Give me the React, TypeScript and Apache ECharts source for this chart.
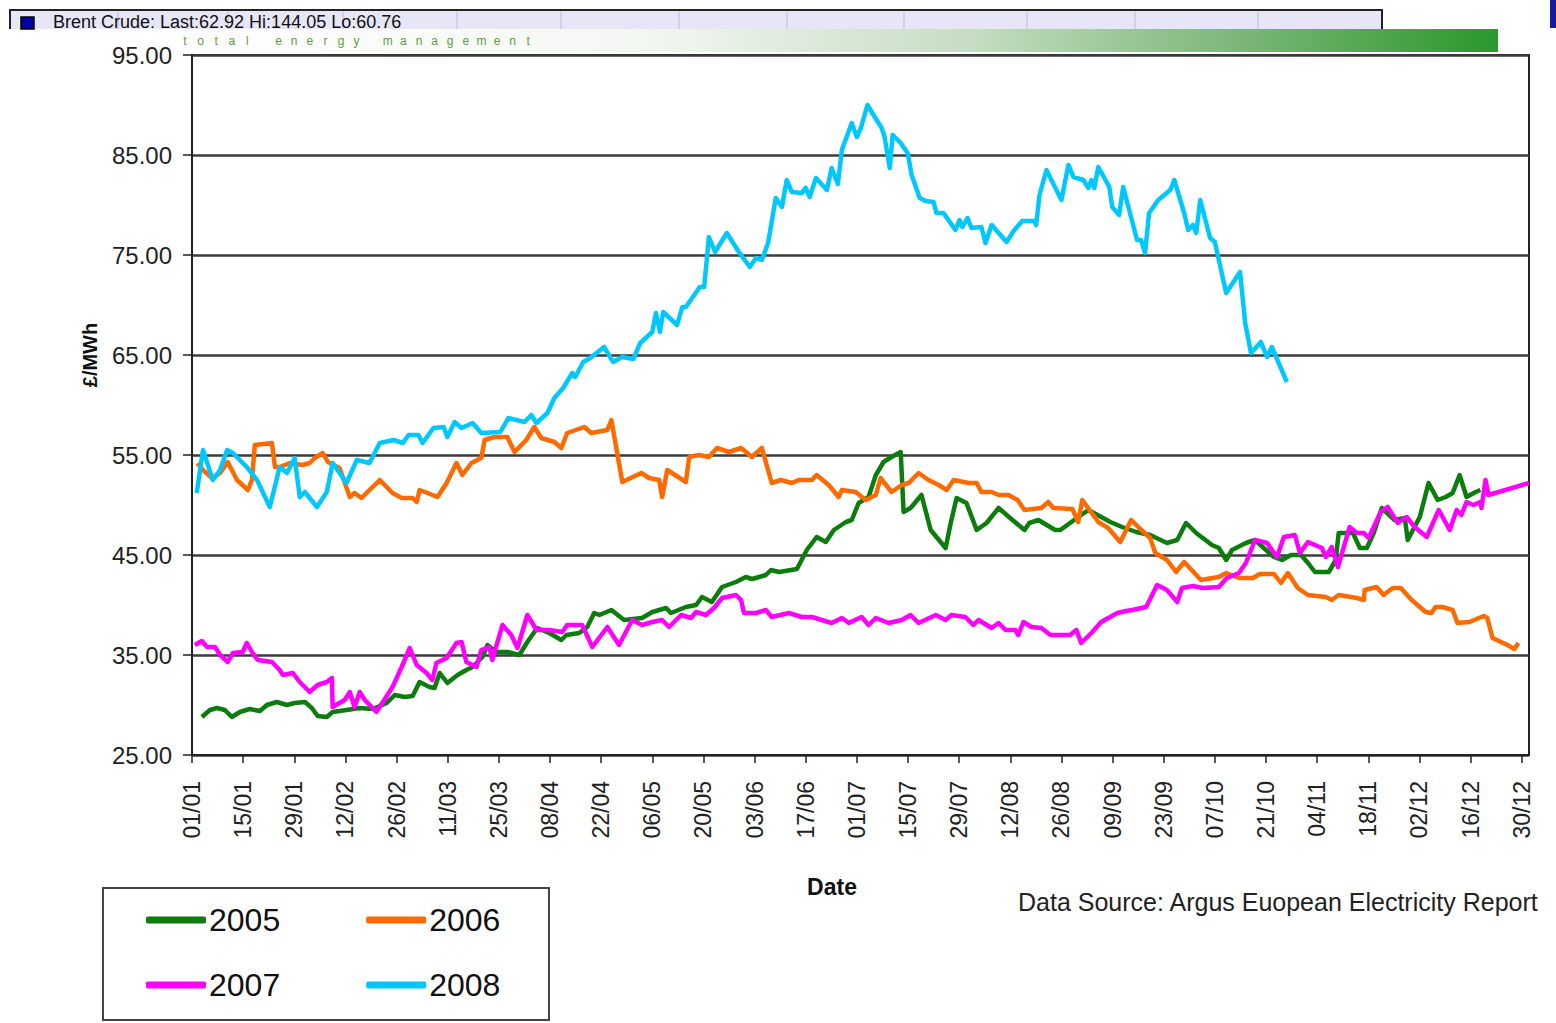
import React, { useEffect, useRef } from "react";
import * as echarts from "echarts";

const xTickLabels = ["01/01","15/01","29/01","12/02","26/02","11/03","25/03","08/04","22/04","06/05","20/05","03/06","17/06","01/07","15/07","29/07","12/08","26/08","09/09","23/09","07/10","21/10","04/11","18/11","02/12","16/12","30/12"];
const yearNames = ["2005", "2006", "2007", "2008"];
const seriesColors = ["#0c7d0c", "#ff6a00", "#ff00ff", "#00c8ff"];

// [day of year (0 = 01/01), £/MWh]
const s2005: number[][] = [[2.7,28.8],[4.9,29.5],[6.8,29.7],[9.0,29.5],[10.9,28.8],[13.1,29.3],[15.8,29.6],[18.6,29.4],[20.5,30.0],[23.2,30.3],[26.0,30.0],[28.1,30.2],[30.9,30.3],[32.8,29.7],[34.4,28.9],[36.9,28.8],[38.5,29.3],[42.3,29.5],[45.9,29.7],[49.5,29.6],[53.3,30.2],[55.5,31.0],[58.2,30.8],[60.4,30.9],[62.3,32.3],[65.0,31.8],[66.4,31.7],[67.8,33.2],[69.9,32.2],[72.7,33.0],[75.1,33.5],[76.8,33.8],[79.5,34.8],[80.9,36.0],[83.3,35.3],[86.3,35.3],[89.6,35.0],[91.8,36.3],[94.5,37.7],[97.8,37.2],[101.1,36.5],[102.5,37.0],[106.0,37.2],[108.2,37.8],[110.1,39.2],[111.5,39.0],[114.8,39.5],[118.3,38.5],[123.2,38.7],[126.0,39.3],[129.8,39.7],[131.1,39.2],[135.2,39.8],[138.0,40.0],[139.6,40.8],[142.3,40.3],[145.1,41.8],[148.9,42.3],[151.6,42.8],[153.3,42.6],[157.1,43.0],[158.5,43.5],[160.7,43.3],[165.6,43.6],[168.3,45.5],[171.0,46.8],[173.5,46.3],[175.7,47.5],[179.0,48.3],[180.6,48.5],[182.5,50.2],[185.2,50.8],[187.2,53.0],[189.3,54.3],[191.5,54.8],[194.0,55.3],[194.8,49.3],[196.7,49.7],[199.7,51.0],[202.2,47.5],[206.3,45.7],[207.7,48.2],[209.3,50.7],[212.0,50.2],[214.8,47.5],[217.5,48.2],[220.8,49.7],[224.6,48.5],[227.9,47.5],[229.2,48.2],[231.7,48.5],[236.3,47.5],[237.7,47.5],[243.4,49.0],[245.4,49.5],[251.4,48.3],[254.6,47.8],[258.5,47.3],[262.3,47.0],[266.9,46.2],[269.7,46.5],[272.1,48.2],[274.9,47.2],[279.2,46.0],[281.1,45.7],[283.1,44.5],[284.7,45.5],[288.5,46.2],[291.0,46.5],[293.4,45.7],[296.2,44.8],[298.4,44.5],[300.8,45.0],[303.6,45.0],[305.5,44.2],[307.4,43.3],[311.2,43.3],[313.1,44.5],[313.9,47.2],[317.8,47.2],[319.7,45.7],[321.6,45.7],[323.5,47.2],[325.7,49.7],[329.2,48.5],[332.0,48.7],[332.8,46.5],[336.1,48.8],[338.5,52.2],[341.0,50.5],[343.2,50.8],[345.1,51.2],[347.0,53.0],[348.9,50.8],[351.4,51.3],[352.7,51.5]];

const s2006: number[][] = [[1.5,54.2],[3.0,53.5],[5.5,52.7],[7.7,53.2],[9.8,54.3],[12.3,52.5],[15.3,51.5],[16.4,52.5],[17.2,56.0],[21.9,56.2],[22.7,53.8],[24.0,53.8],[26.8,54.2],[30.3,54.0],[32.2,54.2],[33.6,54.7],[35.8,55.2],[37.2,54.3],[40.4,53.7],[43.2,50.8],[44.5,51.2],[46.4,50.7],[48.6,51.5],[51.4,52.5],[54.9,51.2],[57.4,50.7],[60.4,50.7],[61.5,50.3],[62.3,51.5],[64.5,51.2],[67.2,50.8],[69.7,52.2],[72.4,54.2],[74.0,53.0],[76.5,54.2],[79.2,54.7],[80.1,56.5],[82.8,56.8],[86.3,56.8],[88.3,55.3],[91.5,56.5],[93.7,57.8],[95.6,56.7],[99.2,56.3],[101.1,55.7],[102.7,57.2],[107.4,57.8],[109.3,57.2],[113.7,57.5],[114.8,58.5],[117.8,52.3],[123.0,53.2],[125.1,52.7],[127.9,52.5],[128.7,50.8],[130.1,53.5],[135.2,52.3],[136.1,54.8],[138.8,55.0],[141.5,54.8],[143.7,55.7],[147.0,55.3],[150.3,55.7],[153.3,54.8],[156.0,55.7],[158.7,52.2],[161.2,52.5],[164.2,52.2],[166.1,52.5],[169.7,52.5],[171.0,53.0],[174.3,52.0],[177.0,50.8],[177.9,51.5],[181.7,51.3],[184.4,50.5],[187.2,51.0],[188.5,52.7],[191.5,51.3],[194.3,52.0],[196.2,52.2],[198.9,53.2],[201.6,52.5],[204.4,52.0],[206.6,51.5],[208.5,52.5],[212.6,52.2],[214.8,52.2],[216.1,51.3],[218.9,51.3],[220.8,51.0],[223.5,51.0],[226.0,50.5],[227.9,49.5],[232.5,49.7],[234.4,50.3],[235.8,49.7],[241.0,49.6],[242.6,48.3],[243.7,50.5],[248.1,48.3],[250.8,47.7],[254.1,46.3],[257.1,48.5],[259.3,47.7],[262.3,46.7],[263.7,45.2],[266.9,44.5],[269.4,43.3],[271.6,44.3],[276.2,42.5],[281.1,42.8],[283.1,43.2],[286.6,42.7],[290.4,42.7],[292.3,43.1],[296.2,43.1],[298.1,42.2],[300.0,43.2],[302.7,41.7],[305.5,41.0],[310.4,40.8],[312.0,40.5],[313.9,41.0],[318.9,40.7],[320.8,40.5],[321.0,41.5],[324.3,41.8],[326.2,41.0],[328.7,41.7],[330.9,41.7],[333.9,40.5],[337.7,39.3],[339.3,39.2],[340.4,39.8],[342.3,39.8],[345.1,39.5],[346.4,38.2],[349.7,38.3],[353.6,38.9],[354.6,38.7],[356.0,36.7],[360.1,36.0],[362.0,35.6],[363.1,36.2]];

const s2007: number[][] = [[0.8,36.0],[2.7,36.4],[4.1,35.8],[6.3,35.8],[7.7,35.0],[9.8,34.3],[11.2,35.2],[13.9,35.3],[15.0,36.2],[16.4,35.3],[18.0,34.5],[21.9,34.3],[24.0,33.5],[24.9,33.0],[27.6,33.2],[29.5,32.3],[32.2,31.3],[34.4,32.0],[36.9,32.3],[38.3,32.7],[38.5,29.8],[41.8,30.5],[43.2,31.3],[44.5,29.8],[45.9,31.3],[47.3,30.5],[50.5,29.3],[54.9,31.8],[57.4,33.8],[59.6,35.7],[61.5,34.0],[64.2,33.2],[65.8,32.5],[66.9,34.2],[69.7,34.7],[72.4,36.2],[73.8,36.3],[75.1,34.3],[77.9,33.8],[79.2,35.5],[81.4,35.8],[82.2,34.5],[85.0,38.0],[87.4,37.0],[89.1,35.7],[91.8,39.0],[94.3,37.5],[97.8,37.5],[101.4,37.3],[102.7,38.0],[106.8,38.0],[109.6,35.8],[113.7,37.8],[116.9,36.0],[120.5,38.5],[123.2,38.0],[126.0,38.3],[128.7,38.5],[130.6,37.8],[133.9,39.0],[136.6,38.7],[138.0,39.3],[140.7,39.0],[142.9,39.7],[145.1,40.7],[148.9,41.0],[150.3,40.5],[151.1,39.2],[154.4,39.2],[157.1,39.5],[158.7,38.8],[163.4,39.2],[166.9,38.8],[169.7,38.8],[175.1,38.2],[177.9,38.7],[179.8,38.2],[183.3,38.8],[185.2,38.0],[187.2,38.7],[190.7,38.2],[194.3,38.5],[196.7,39.0],[198.9,38.2],[203.6,39.0],[206.3,38.5],[207.9,39.0],[211.7,38.8],[213.9,38.0],[215.3,38.5],[218.9,37.7],[220.8,38.2],[222.7,37.5],[225.4,37.5],[226.2,37.0],[227.6,38.3],[229.8,37.8],[232.5,37.7],[235.0,37.0],[240.4,37.0],[242.1,37.5],[243.4,36.2],[246.2,37.2],[248.9,38.3],[253.3,39.2],[255.7,39.4],[257.4,39.5],[261.2,39.8],[264.2,42.0],[266.9,41.5],[269.7,40.3],[271.0,41.7],[274.0,41.9],[276.8,41.7],[281.1,41.8],[283.3,42.7],[286.6,43.2],[288.5,44.2],[291.0,46.5],[294.3,46.2],[297.0,44.8],[298.9,46.8],[301.9,47.0],[303.3,45.2],[305.5,46.3],[309.3,45.7],[310.4,44.8],[312.0,45.8],[313.7,43.8],[316.9,47.8],[318.9,47.2],[320.8,47.2],[322.1,46.7],[325.4,49.3],[327.3,49.8],[330.1,48.2],[332.5,48.8],[334.7,47.8],[338.0,46.8],[341.3,49.5],[344.3,47.5],[346.2,49.5],[347.5,49.0],[348.9,50.3],[350.8,50.0],[352.7,50.3],[353.0,49.7],[354.1,52.5],[354.9,51.0],[366.0,52.2]];

const s2008: number[][] = [[1.3,51.2],[3,55.5],[5.7,52.5],[7.7,53.5],[9.6,55.5],[11.2,55.2],[15,53.8],[17.8,52.5],[21.3,49.8],[24,53.8],[26,53.2],[28.1,54.7],[29.5,50.8],[30.9,51.3],[34.2,49.8],[36.9,51.3],[38.5,54.2],[42.3,52.2],[45.1,54.5],[48.6,54.2],[51.4,56.2],[55.2,56.5],[57.7,56.2],[59.3,57],[62,57],[63.1,56.2],[66.1,57.7],[68.9,57.8],[69.9,56.8],[71.9,58.3],[73.8,57.7],[76.8,58.2],[79.2,57.2],[84.4,57.3],[86.6,58.7],[91,58.3],[92.9,59],[94.3,58.2],[97.3,59.2],[99.2,60.7],[101.6,61.7],[104.1,63.2],[104.9,62.8],[107.1,64.3],[109,64.7],[112.8,65.8],[115.3,64.3],[117.8,64.8],[120.8,64.6],[122.7,66.2],[126,67.3],[127,69.2],[128.1,67.3],[129,69.3],[132.8,68],[134.2,69.8],[135.2,69.8],[139,71.8],[140.2,71.8],[141.5,76.8],[143.2,75.3],[146.4,77.2],[149.7,75.3],[152.7,73.8],[154.4,74.7],[156,74.5],[157.7,76.2],[159.8,80.7],[161.5,79.8],[162.8,82.5],[164.2,81.3],[166.9,81.2],[168,81.7],[169.1,80.8],[170.8,82.7],[173.8,81.5],[175.1,83.7],[176.8,82.1],[177.9,85.5],[180.6,88.2],[182,86.8],[183.1,87.7],[184.9,90],[186.9,88.8],[188.8,87.7],[189.6,86.8],[191,83.7],[191.8,87],[194,86.2],[195.9,85.2],[197,83],[199.2,80.7],[200.8,80.4],[203,80.3],[203.8,79.2],[205.7,79.2],[209,77.5],[210.1,78.5],[210.9,77.8],[212.3,78.7],[213.4,77.7],[216.1,77.8],[217.2,76.2],[218.9,78],[223,76.3],[225.1,77.5],[227.3,78.4],[230.6,78.4],[231.1,78],[232,81],[233.9,83.5],[238,80.5],[239.9,84],[241.3,82.8],[244,82.5],[245.4,81.7],[246.2,82.5],[247,81.7],[248.1,83.8],[251.1,81.8],[251.9,79.8],[253.8,79],[254.9,81.8],[258.7,76.5],[259.8,76.5],[260.9,75.2],[262,79.2],[264.5,80.5],[267.8,81.5],[268.9,82.5],[271.6,79.2],[272.7,77.5],[274,78],[274.9,77.2],[276,80.5],[278.7,76.7],[280,76.3],[283.1,71.2],[286.9,73.3],[288.3,68.2],[289.9,65.2],[292.6,66.3],[294.3,64.8],[295.6,65.8],[299.7,62.3]];

const seriesData = [s2005, s2006, s2007, s2008];

const tickerText = "Brent Crude: Last:62.92 Hi:144.05 Lo:60.76";
const brandText = "total energy management";
const sourceText = "Data Source: Argus Euopean Electricity Report";
const FONT = "'Liberation Sans', Arial, Helvetica, sans-serif";

export default function App() {
  const ref = useRef<HTMLDivElement>(null);

  useEffect(() => {
    if (!ref.current) return;
    const chart = echarts.init(ref.current, undefined, { renderer: "svg" });

    const dividerXs = [118, 228, 343, 457, 561, 679, 787, 904, 1027, 1135, 1258];
    const brandChildren: any[] = [];
    for (let i = 0; i < brandText.length; i++) {
      const ch = brandText[i];
      if (ch === " ") continue;
      brandChildren.push({
        type: "text",
        x: 185 + i * 15.6,
        y: 41,
        z: 6,
        style: { text: ch, font: `12px ${FONT}`, fill: "#5c9e3c", textAlign: "center", textVerticalAlign: "middle" },
      });
    }

    const graphic: any[] = [
      { type: "rect", z: 1, shape: { x: 10, y: 10, width: 1372, height: 19 }, style: { fill: "#e6e6f6" } },
      { type: "polyline", z: 1, shape: { points: [[10, 29], [10, 10], [1382, 10], [1382, 29]] }, style: { fill: "none", stroke: "#222", lineWidth: 2 } },
      ...dividerXs.map((x) => ({ type: "line", z: 1, shape: { x1: x, y1: 12, x2: x, y2: 29 }, style: { stroke: "#c9c9e4", lineWidth: 1.5 } })),
      { type: "rect", z: 2, shape: { x: 21, y: 17, width: 13, height: 12 }, style: { fill: "#0000a8", stroke: "#000", lineWidth: 1.5 } },
      { type: "text", z: 2, x: 53, y: 13, style: { text: tickerText, font: `18px ${FONT}`, fill: "#111", textVerticalAlign: "top" } },
      { type: "rect", z: 3, shape: { x: 1550, y: 0, width: 6, height: 28 }, style: { fill: "#1a1aa0" } },
      {
        type: "rect",
        z: 4,
        shape: { x: 181, y: 29, width: 1317, height: 23 },
        style: {
          fill: {
            type: "linear", x: 0, y: 0, x2: 1, y2: 0,
            colorStops: [
              { offset: 0, color: "#ffffff" },
              { offset: 0.35, color: "#f3f7f2" },
              { offset: 0.6, color: "#c6ddc3" },
              { offset: 0.8, color: "#7db77a" },
              { offset: 1, color: "#2a982a" },
            ],
          },
        },
      },
      ...brandChildren,
      { type: "text", x: 832, y: 887, style: { text: "Date", font: `bold 23px ${FONT}`, fill: "#111", textAlign: "center", textVerticalAlign: "middle" } },
      { type: "text", x: 90, y: 355, rotation: Math.PI / 2, style: { text: "£/MWh", font: `bold 20px ${FONT}`, fill: "#111", textAlign: "center", textVerticalAlign: "middle" } },
      { type: "text", x: 1018, y: 902, style: { text: sourceText, font: `25px ${FONT}`, fill: "#222", textVerticalAlign: "middle" } },
      { type: "rect", shape: { x: 103, y: 888, width: 446, height: 132 }, style: { fill: "none", stroke: "#444", lineWidth: 2 } },
    ];

    const legendBase = {
      orient: "horizontal",
      left: 146,
      padding: 0,
      itemGap: 86,
      itemWidth: 60,
      itemHeight: 7,
      icon: "roundRect",
      textStyle: { fontSize: 32, fontFamily: FONT, color: "#111", padding: [0, 0, 0, -2], lineHeight: 32 },
      selectedMode: false,
    };

    chart.setOption({
      animation: false,
      backgroundColor: "#ffffff",
      textStyle: { fontFamily: FONT },
      graphic,
      legend: [
        { ...legendBase, top: 904, data: [yearNames[0], yearNames[1]] },
        { ...legendBase, top: 969, data: [yearNames[2], yearNames[3]] },
      ],
      grid: {
        left: 192,
        top: 55,
        right: 27,
        bottom: 268,
        show: true,
        borderColor: "#222",
        borderWidth: 2,
        backgroundColor: "#ffffff",
        containLabel: false,
      },
      xAxis: {
        type: "value",
        min: 0,
        max: 366,
        interval: 14,
        axisLine: { lineStyle: { color: "#222", width: 2 } },
        axisTick: { show: true, length: 8, lineStyle: { color: "#222", width: 1.5 }, customValues: xTickLabels.map((_, i) => i * 14) },
        axisLabel: {
          rotate: 90,
          margin: 26,
          fontSize: 23,
          color: "#222",
          fontFamily: FONT,
          customValues: xTickLabels.map((_, i) => i * 14),
          formatter: (v: number) => {
            const i = Math.round(v / 14);
            return Math.abs(v - i * 14) < 1e-6 && xTickLabels[i] ? xTickLabels[i] : "";
          },
        },
        splitLine: { show: false },
      },
      yAxis: {
        type: "value",
        min: 25,
        max: 95,
        interval: 10,
        axisLine: { show: true, lineStyle: { color: "#222", width: 2 } },
        axisTick: { show: true, length: 9, lineStyle: { color: "#222", width: 1.5 } },
        axisLabel: { margin: 20, fontSize: 24, color: "#222", fontFamily: FONT, formatter: (v: number) => v.toFixed(2) },
        splitLine: { show: true, lineStyle: { color: "#3c3c3c", width: 2.5 } },
      },
      series: yearNames.map((name, i) => ({
        name,
        type: "line",
        data: seriesData[i],
        showSymbol: false,
        symbol: "none",
        lineStyle: { color: seriesColors[i], width: 4.5, join: "round" },
        itemStyle: { color: seriesColors[i] },
        z: 3 + i,
      })),
    });

    return () => chart.dispose();
  }, []);

  return <div ref={ref} style={{ position: "fixed", left: 0, top: 0, width: 1556, height: 1023 }} />;
}
